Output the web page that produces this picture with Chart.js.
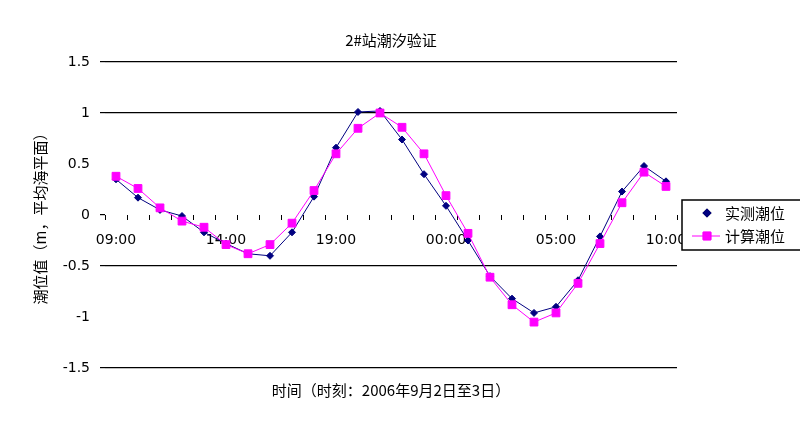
<!DOCTYPE html>
<html>
<head>
<meta charset="utf-8">
<script src="https://cdn.jsdelivr.net/npm/chart.js@4/dist/chart.umd.min.js"></script>
<style>
  html, body { margin: 0; padding: 0; background: #fff; }
</style>
</head>
<body>
<canvas id="tideChart" width="800" height="421"></canvas>
<script>
// hourly categories, 9 o'clock to 10 o'clock next day
const times = ['09:00', '10:00', '11:00', '12:00', '13:00', '14:00', '15:00', '16:00', '17:00',
  '18:00', '19:00', '20:00', '21:00', '22:00', '23:00', '00:00', '01:00', '02:00', '03:00',
  '04:00', '05:00', '06:00', '07:00', '08:00', '09:00', '10:00'];
const measured = [0.35, 0.17, 0.05, -0.01, -0.17, -0.28, -0.38, -0.40, -0.17, 0.18, 0.66, 1.01, 1.02,
  0.74, 0.40, 0.09, -0.25, -0.60, -0.82, -0.96, -0.90, -0.64, -0.21, 0.23, 0.48, 0.33];
const computed = [0.38, 0.26, 0.07, -0.06, -0.12, -0.29, -0.38, -0.29, -0.08, 0.24, 0.60, 0.85, 1.00,
  0.86, 0.60, 0.19, -0.18, -0.61, -0.88, -1.05, -0.96, -0.67, -0.28, 0.12, 0.42, 0.28];
const seriesNames = ['实测潮位', '计算潮位'];
const gridLevels = [1.5, 1, -0.5, -1.5];
const labelEvery = 5;

const cjk = '"Noto Sans CJK SC", "DejaVu Sans", sans-serif';
const clear = 'rgba(0,0,0,0)';

// Excel style legend box drawn beside the plot
const legendBox = {
  id: 'legendBox',
  afterDraw(chart) {
    const ctx = chart.ctx;
    const area = chart.chartArea;
    const left = area.right + 5;
    const mid = (area.top + area.bottom) / 2 + 10;
    const top = mid - 25;
    ctx.save();
    ctx.fillStyle = '#fff';
    ctx.fillRect(left, top, 140, 50);
    ctx.strokeStyle = '#000';
    ctx.lineWidth = 1.5;
    ctx.strokeRect(left, top, 140, 50);
    ctx.font = '15px ' + cjk;
    ctx.textBaseline = 'middle';
    chart.data.datasets.forEach((ds, i) => {
      const y = top + 13 + i * 23;
      const mx = left + 25;
      if (i === 1) {
        ctx.strokeStyle = ds.borderColor;
        ctx.lineWidth = 1;
        ctx.beginPath();
        ctx.moveTo(left + 10, y);
        ctx.lineTo(left + 38, y);
        ctx.stroke();
      }
      Chart.helpers.drawPoint(ctx, {
        pointStyle: ds.pointStyle,
        radius: ds.pointRadius,
        rotation: 0,
        borderWidth: 1
      }, mx, y);
      ctx.fillStyle = ds.pointBackgroundColor;
      ctx.strokeStyle = ds.pointBorderColor;
      ctx.fill();
      ctx.stroke();
      ctx.fillStyle = '#000';
      ctx.fillText(ds.label, left + 43, y);
    });
    ctx.restore();
  }
};

new Chart(document.getElementById('tideChart'), {
  type: 'line',
  data: {
    labels: times,
    datasets: [{
      label: seriesNames[0],
      data: measured,
      borderColor: '#000080',
      backgroundColor: '#000080',
      pointBackgroundColor: '#000080',
      pointBorderColor: '#000080',
      pointStyle: 'rectRot',
      pointRadius: 3.5,
      borderWidth: 1,
      tension: 0,
      order: 1
    }, {
      label: seriesNames[1],
      data: computed,
      borderColor: '#ff00ff',
      backgroundColor: '#ff00ff',
      pointBackgroundColor: '#ff00ff',
      pointBorderColor: '#ff00ff',
      pointStyle: 'rect',
      pointRadius: 5.5,
      borderWidth: 1,
      tension: 0,
      order: 0
    }]
  },
  options: {
    responsive: false,
    animation: false,
    layout: {
      padding: { left: 25, right: 123, top: 0, bottom: 19 }
    },
    plugins: {
      legend: { display: false },
      tooltip: { enabled: false },
      title: {
        display: true,
        fullSize: false,
        text: '2#站潮汐验证',
        color: '#000',
        font: { family: cjk, size: 15, weight: 'normal' },
        padding: { top: 31, bottom: 13 }
      },
      subtitle: {
        display: true,
        fullSize: false,
        position: 'bottom',
        text: '时间（时刻：2006年9月2日至3日）',
        color: '#000',
        font: { family: cjk, size: 15, weight: 'normal' },
        padding: { top: 13, bottom: 3 }
      }
    },
    scales: {
      x: {
        position: { y: 0 },
        offset: true,
        border: { display: false },
        grid: {
          offset: true,
          drawOnChartArea: false,
          tickLength: 5,
          tickColor: '#000'
        },
        ticks: {
          autoSkip: false,
          maxRotation: 0,
          padding: 12,
          color: '#000',
          font: { family: '"DejaVu Sans"', size: 14 },
          callback: (v, i) => (i % labelEvery === 0 ? times[i] : '')
        }
      },
      y: {
        min: -1.5,
        max: 1.5,
        border: { display: false },
        afterFit: scale => { scale.width = 80; },
        grid: {
          lineWidth: 1.2,
          tickLength: 5,
          color: c => (gridLevels.includes(c.tick.value) ? '#000' : clear),
          tickColor: c => (gridLevels.includes(c.tick.value) || c.tick.value === 0 ? '#000' : clear)
        },
        ticks: {
          stepSize: 0.5,
          padding: 10,
          color: '#000',
          font: { family: '"DejaVu Sans"', size: 14 },
          callback: v => String(v)
        },
        title: {
          display: true,
          text: '潮位值（m，平均海平面）',
          color: '#000',
          font: { family: cjk, size: 15, weight: 'normal' },
          padding: { top: 6, bottom: 0 }
        }
      }
    }
  },
  plugins: [legendBox]
});
</script>
</body>
</html>
